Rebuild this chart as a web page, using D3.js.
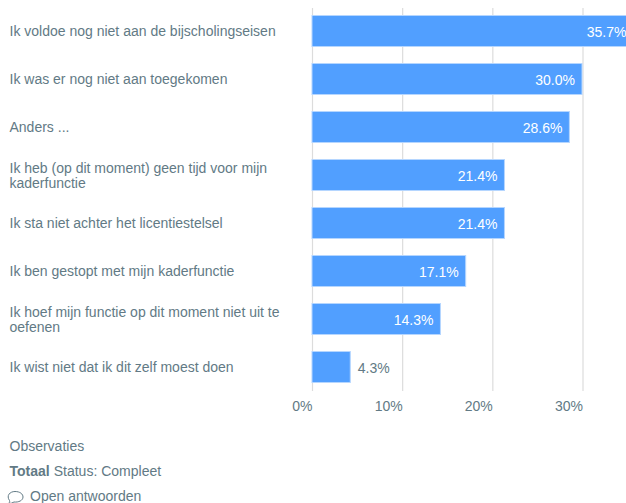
<!DOCTYPE html>
<html><head><meta charset="utf-8">
<script src="https://cdn.jsdelivr.net/npm/d3@7/dist/d3.min.js"></script>
<style>html,body{margin:0;padding:0;background:#fff;overflow:hidden}svg{display:block}text{font-family:"Liberation Sans",Arial,sans-serif}</style>
</head><body><svg id="c" width="626" height="503"></svg>
<script>
const categories = [
  ["Ik voldoe nog niet aan de bijscholingseisen"],
  ["Ik was er nog niet aan toegekomen"],
  ["Anders ..."],
  ["Ik heb (op dit moment) geen tijd voor mijn","kaderfunctie"],
  ["Ik sta niet achter het licentiestelsel"],
  ["Ik ben gestopt met mijn kaderfunctie"],
  ["Ik hoef mijn functie op dit moment niet uit te","oefenen"],
  ["Ik wist niet dat ik dit zelf moest doen"]
];
const values = [35.7,30.0,28.6,21.4,21.4,17.1,14.3,4.3];
const ticks = [0,10,20,30];
const footer = ["Observaties","Status: Compleet","Open antwoorden"];
const total = "Totaal";

const txt="#627a85", blue="#519fff", edge="#b5d6ff", grid="#dcdcdc";
const svg=d3.select("#c");
const x=d3.scaleLinear().domain([0,30]).range([312,582.5]);
const y=d3.scaleBand().domain(d3.range(categories.length)).range([7,391]).paddingInner(1/3).paddingOuter(1/6);

const axis=d3.axisBottom(x).tickValues(ticks).tickSize(383).tickFormat(d=>d+"%");
const ag=svg.append("g").attr("transform","translate(0,8)").call(axis);
ag.select(".domain").remove();
ag.selectAll("line").attr("stroke",grid).attr("stroke-width",1.2);
ag.selectAll("text").attr("text-anchor","end").attr("y",403).attr("dy",0).attr("fill",txt).attr("font-size",14);

svg.append("g").selectAll("rect").data(values).join("rect")
  .attr("x",x(0)).attr("y",(d,i)=>y(i)+0.5).attr("width",d=>x(d)-x(0)-0.5).attr("height",y.bandwidth()-1)
  .attr("fill",blue).attr("stroke",edge).attr("stroke-width",1);

svg.append("g").selectAll("text").data(values).join("text")
  .attr("x",d=>d<8?x(d)+7:x(d)-7.5)
  .attr("y",(d,i)=>y(i)+y.bandwidth()/2+5.5)
  .attr("text-anchor",d=>d<8?"start":"end")
  .attr("fill",d=>d<8?txt:"#fff").attr("font-size",14)
  .text(d=>d.toFixed(1)+"%");

const lab=svg.append("g").selectAll("text").data(categories).join("text")
  .attr("fill",txt).attr("font-size",14)
  .attr("y",(d,i)=>y(i)+y.bandwidth()/2+(d.length>1?-2.5:5));
lab.selectAll("tspan").data(d=>d).join("tspan").attr("x",9.5).attr("dy",(d,i)=>i?15.5:0).text(d=>d);

svg.append("text").attr("x",9.5).attr("y",451).attr("fill",txt).attr("font-size",14).text(footer[0]);
const t=svg.append("text").attr("x",9.5).attr("y",476).attr("fill",txt).attr("font-size",14);
t.append("tspan").attr("font-weight",700).text(total);
t.append("tspan").attr("dx",4).text(footer[1]);
svg.append("text").attr("x",30).attr("y",501).attr("fill",txt).attr("font-size",14).text(footer[2]);
svg.append("path").attr("d","M9.5 500.5 C6 495.5 10 491.5 15 491.5 C20 491.5 23 494 23 497 C23 500.5 18.5 502.5 14 502 C12.5 503 10.5 503.5 8.5 503.5 C9.5 502.5 10 501.5 9.5 500.5 Z").attr("fill","none").attr("stroke",txt).attr("stroke-width",1);
</script></body></html>
